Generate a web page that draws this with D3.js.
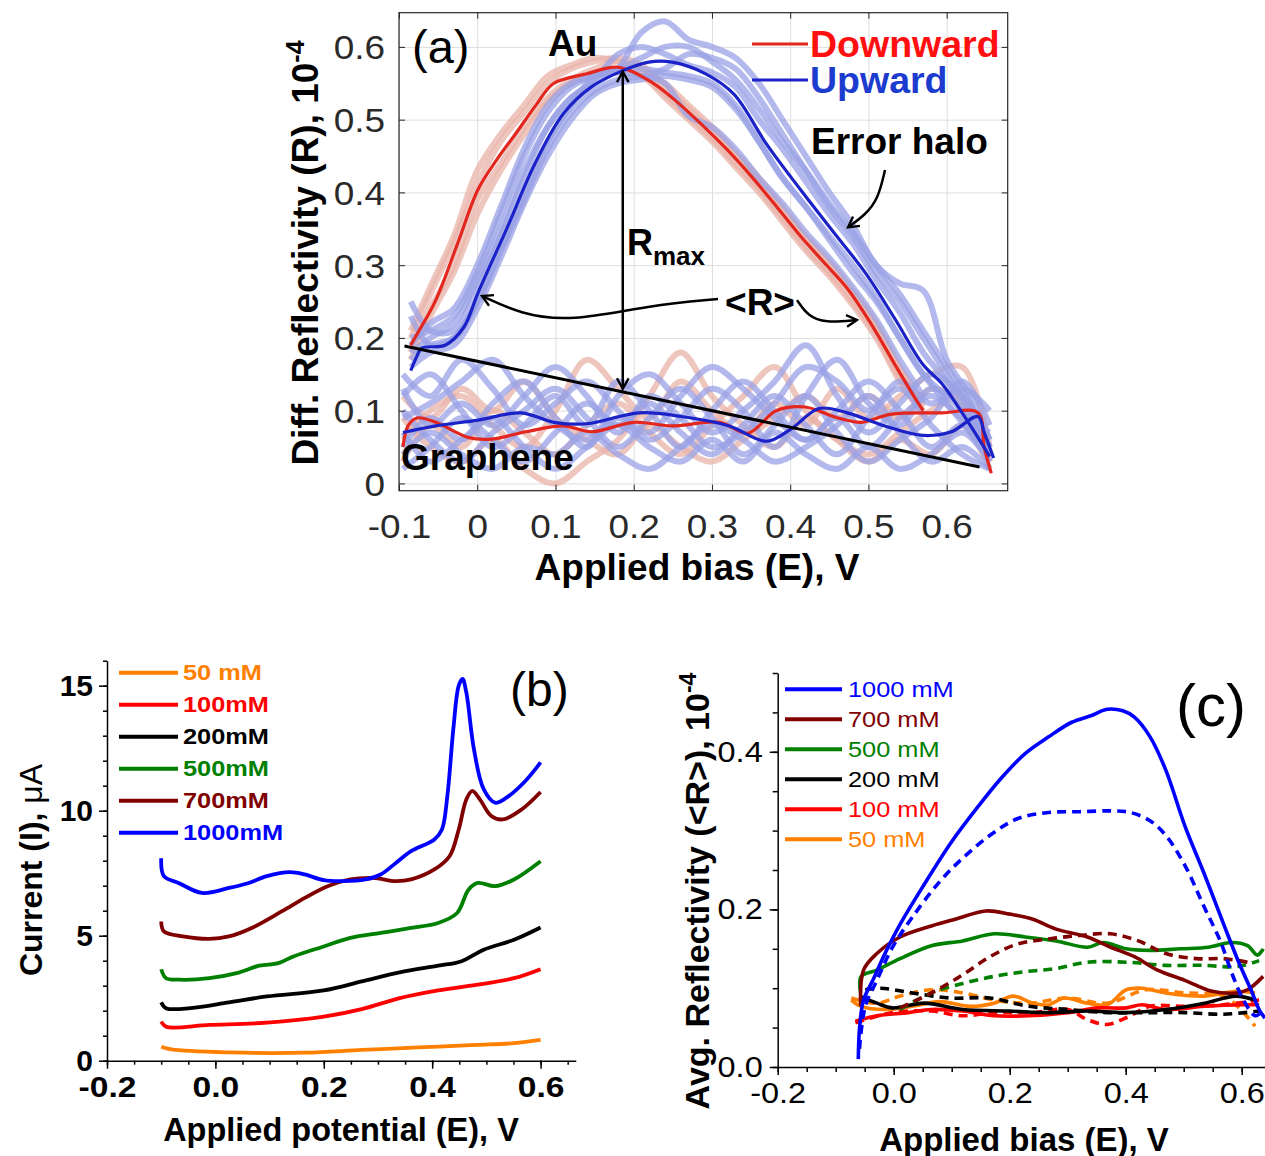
<!DOCTYPE html>
<html>
<head>
<meta charset="utf-8">
<script src="https://cdn.jsdelivr.net/npm/d3@7"></script>
<style>
  body { margin: 0; background: #fff; }
  text { font-family: "Liberation Sans", Arial, sans-serif; }
  .sxl { transform-box: fill-box; transform-origin: 0% 50%; transform: scaleX(1.18); }
  .sxc { transform-box: fill-box; transform-origin: 50% 50%; transform: scaleX(1.12); }
  .sxr { transform-box: fill-box; transform-origin: 100% 50%; transform: scaleX(1.12); }
</style>
</head>
<body>
<svg id="fig" width="1265" height="1156"></svg>
<script>
// ---------- panel (a) data ----------
var aXTicks = [-0.1, 0, 0.1, 0.2, 0.3, 0.4, 0.5, 0.6];
var aYTicks = [0, 0.1, 0.2, 0.3, 0.4, 0.5, 0.6];

var aDownAu = [[-0.085,0.19],[-0.077,0.205],[-0.053,0.252],[-0.025,0.33],[0.001,0.404],[0.025,0.445],[0.05,0.482],[0.075,0.52],[0.098,0.55],[0.14,0.563],[0.18,0.572],[0.225,0.55],[0.26,0.52],[0.29,0.49],[0.32,0.458],[0.352,0.42],[0.383,0.38],[0.413,0.34],[0.443,0.304],[0.473,0.268],[0.503,0.22],[0.534,0.163],[0.558,0.12],[0.57,0.1]];
var aUpAu = [[-0.085,0.155],[-0.077,0.175],[-0.071,0.186],[-0.041,0.19],[-0.017,0.215],[0.001,0.262],[0.038,0.351],[0.074,0.44],[0.11,0.508],[0.146,0.545],[0.183,0.566],[0.219,0.579],[0.249,0.579],[0.292,0.563],[0.328,0.535],[0.37,0.466],[0.413,0.404],[0.455,0.346],[0.497,0.288],[0.534,0.226],[0.57,0.163],[0.594,0.137],[0.624,0.09],[0.655,0.037]];
var aDownGr = [[-0.095,0.05],[-0.088,0.08],[-0.077,0.09],[-0.053,0.084],[-0.011,0.063],[0.019,0.061],[0.062,0.071],[0.11,0.079],[0.146,0.071],[0.2,0.084],[0.249,0.079],[0.31,0.084],[0.346,0.069],[0.382,0.1],[0.419,0.105],[0.461,0.09],[0.491,0.084],[0.528,0.095],[0.594,0.097],[0.64,0.097],[0.648,0.05],[0.657,0.014]];
var aUpGr = [[-0.095,0.07],[-0.053,0.079],[0.001,0.087],[0.056,0.097],[0.098,0.084],[0.14,0.082],[0.207,0.097],[0.261,0.092],[0.322,0.079],[0.37,0.058],[0.4,0.074],[0.437,0.103],[0.473,0.097],[0.521,0.079],[0.57,0.066],[0.606,0.071],[0.64,0.092],[0.648,0.07],[0.66,0.035]];

// individual sweeps (error halo)
var auHaloX = [-0.085,-0.06,-0.03,0,0.03,0.06,0.09,0.12,0.15,0.18,0.21,0.24,0.27,0.30,0.33,0.36,0.39,0.42,0.45,0.48,0.51,0.54,0.57,0.60,0.63,0.655];
var auHaloDown = [
  [0.21,0.27,0.34,0.43,0.48,0.52,0.56,0.575,0.585,0.58,0.57,0.55,0.52,0.49,0.455,0.42,0.38,0.34,0.305,0.265,0.22,0.16,0.11,null,null,null],
  [0.17,0.23,0.29,0.37,0.43,0.48,0.525,0.55,0.56,0.565,0.56,0.53,0.50,0.47,0.435,0.40,0.36,0.32,0.285,0.245,0.20,0.14,0.095,null,null,null],
  [0.20,0.26,0.33,0.41,0.47,0.51,0.55,0.57,0.58,0.585,0.575,0.545,0.515,0.485,0.45,0.415,0.375,0.335,0.30,0.26,0.215,0.155,0.105,null,null,null],
  [0.18,0.24,0.30,0.39,0.44,0.49,0.53,0.555,0.57,0.58,0.565,0.535,0.505,0.475,0.44,0.405,0.365,0.325,0.29,0.25,0.205,0.145,0.10,null,null,null]
];
var auHaloUp = [
  [0.20,0.21,0.23,0.29,0.37,0.45,0.51,0.545,0.56,0.57,0.57,0.565,0.56,0.55,0.52,0.47,0.42,0.38,0.34,0.30,0.255,0.20,0.15,0.12,null,null],
  [0.17,0.19,0.20,0.25,0.32,0.39,0.46,0.51,0.54,0.555,0.56,0.57,0.59,0.585,0.57,0.53,0.48,0.43,0.38,0.34,0.29,0.25,0.20,0.15,0.10,0.05],
  [0.25,0.21,0.21,0.27,0.34,0.42,0.49,0.53,0.55,0.57,0.62,0.635,0.61,0.60,0.585,0.55,0.50,0.45,0.40,0.355,0.30,0.275,0.265,0.17,0.12,0.06],
  [0.16,0.18,0.19,0.24,0.31,0.385,0.45,0.50,0.535,0.55,0.555,0.56,0.555,0.545,0.515,0.47,0.42,0.38,0.335,0.29,0.25,0.20,0.15,0.11,0.07,0.03],
  [0.18,0.20,0.22,0.28,0.35,0.43,0.49,0.53,0.555,0.59,0.60,0.59,0.575,0.565,0.545,0.50,0.46,0.415,0.37,0.33,0.28,0.235,0.18,0.14,0.09,0.04],
  [0.23,0.19,0.20,0.25,0.32,0.40,0.47,0.52,0.56,0.57,0.585,0.60,0.60,0.58,0.555,0.515,0.47,0.43,0.385,0.345,0.30,0.26,0.21,0.16,0.11,0.05],
  [0.19,0.22,0.24,0.30,0.38,0.46,0.52,0.55,0.56,0.565,0.56,0.55,0.505,0.49,0.46,0.42,0.385,0.345,0.31,0.27,0.225,0.17,0.12,null,null,null]
];
var grHaloX = [-0.095,-0.06,-0.02,0.02,0.06,0.10,0.14,0.18,0.22,0.26,0.30,0.34,0.38,0.42,0.46,0.50,0.54,0.58,0.62,0.655];
var grHaloDown = [
  [0.06,0.10,0.12,0.08,0.05,0.10,0.17,0.13,0.09,0.14,0.10,0.07,0.11,0.08,0.13,0.09,0.12,0.15,0.16,0.05],
  [0.09,0.05,0.03,0.06,0.02,0.00,0.03,0.06,0.12,0.18,0.12,0.08,0.05,0.09,0.06,0.04,0.07,0.10,0.12,0.03],
  [0.03,0.08,0.05,0.10,0.07,0.04,0.08,0.11,0.07,0.04,0.08,0.12,0.16,0.10,0.06,0.03,0.06,0.04,0.08,0.02],
  [0.12,0.09,0.13,0.10,0.14,0.09,0.06,0.04,0.08,0.05,0.03,0.06,0.09,0.12,0.09,0.12,0.09,0.13,0.11,0.03]
];
var grHaloUp = [
  [0.15,0.12,0.17,0.13,0.08,0.11,0.14,0.10,0.06,0.09,0.13,0.10,0.05,0.12,0.17,0.11,0.08,0.13,0.10,0.05],
  [0.05,0.09,0.06,0.11,0.14,0.09,0.05,0.12,0.15,0.11,0.07,0.10,0.14,0.19,0.12,0.07,0.11,0.15,0.12,0.06],
  [0.10,0.06,0.03,0.07,0.10,0.13,0.09,0.05,0.09,0.13,0.09,0.04,0.08,0.12,0.07,0.03,0.06,0.09,0.14,0.08],
  [0.02,0.05,0.09,0.06,0.03,0.07,0.11,0.08,0.11,0.07,0.04,0.08,0.12,0.08,0.04,0.09,0.13,0.08,0.04,0.02],
  [0.12,0.15,0.10,0.05,0.08,0.12,0.08,0.14,0.10,0.05,0.10,0.14,0.10,0.06,0.10,0.14,0.10,0.05,0.08,0.04],
  [0.07,0.03,0.06,0.09,0.05,0.02,0.05,0.08,0.05,0.03,0.06,0.03,0.07,0.04,0.02,0.05,0.02,0.04,0.07,0.03],
  [0.09,0.11,0.14,0.17,0.12,0.08,0.06,0.09,0.07,0.12,0.16,0.13,0.09,0.06,0.09,0.05,0.09,0.12,0.09,0.07],
  [0.13,0.08,0.11,0.08,0.12,0.16,0.12,0.07,0.12,0.09,0.05,0.07,0.11,0.16,0.14,0.10,0.14,0.11,0.13,0.10],
  [0.04,0.07,0.04,0.02,0.05,0.04,0.07,0.04,0.02,0.05,0.08,0.06,0.03,0.05,0.08,0.12,0.07,0.03,0.05,0.02]
];

// annotations of (a), in data units
var aBaseline = [[-0.093,0.189],[0.642,0.0225]];
var aRmax = [[0.186,0.566],[0.186,0.13]];
var aArrowLeft = [[0.3077,0.2535],[0.2208,0.245],[0.1186,0.2222],[0.0547,0.233],[0.0061,0.2576]];
var aArrowRight = [[0.4087,0.252],[0.4227,0.23],[0.4445,0.2205],[0.4854,0.2246]];
var aArrowHalo = [[0.5212,0.4307],[0.5122,0.39],[0.4956,0.369],[0.4739,0.352]];

// ---------- panel (b) data ----------
var bXTicks = [-0.2, 0, 0.2, 0.4, 0.6];
var bYTicks = [0, 5, 10, 15];
var bNames = ["50 mM", "100mM", "200mM", "500mM", "700mM", "1000mM"];
var bColors = ["#ff8000", "#ff0000", "#000000", "#008000", "#800000", "#0000ff"];
var b50 = [[-0.1,0.56],[-0.081,0.45],[0.025,0.33],[0.165,0.32],[0.27,0.43],[0.375,0.53],[0.481,0.63],[0.551,0.7],[0.6,0.83]];
var b100 = [[-0.1,1.56],[-0.091,1.36],[-0.011,1.43],[0.095,1.52],[0.2,1.76],[0.27,2.06],[0.34,2.5],[0.411,2.81],[0.481,3.03],[0.551,3.3],[0.6,3.66]];
var b200 = [[-0.1,2.33],[-0.091,2.1],[-0.046,2.1],[0.025,2.33],[0.095,2.57],[0.2,2.81],[0.27,3.17],[0.34,3.53],[0.411,3.8],[0.453,3.97],[0.495,4.44],[0.551,4.84],[0.6,5.33]];
var b500 = [[-0.1,3.66],[-0.091,3.3],[-0.067,3.24],[-0.011,3.3],[0.039,3.5],[0.081,3.8],[0.116,3.9],[0.144,4.17],[0.2,4.57],[0.249,4.91],[0.305,5.11],[0.361,5.31],[0.411,5.51],[0.446,5.91],[0.467,6.84],[0.484,7.11],[0.516,6.98],[0.551,7.25],[0.6,7.98]];
var b700 = [[-0.1,5.57],[-0.095,5.17],[-0.06,4.97],[-0.011,4.87],[0.025,4.97],[0.067,5.31],[0.123,5.98],[0.165,6.51],[0.207,6.98],[0.249,7.25],[0.291,7.31],[0.333,7.18],[0.361,7.25],[0.404,7.65],[0.432,8.18],[0.449,9.25],[0.463,10.45],[0.474,10.79],[0.488,10.45],[0.509,9.79],[0.53,9.65],[0.565,10.05],[0.6,10.75]];
var b1000 = [[-0.1,8.1],[-0.095,7.38],[-0.067,7.1],[-0.025,6.71],[0.025,6.91],[0.06,7.1],[0.095,7.38],[0.137,7.54],[0.165,7.45],[0.2,7.22],[0.235,7.18],[0.277,7.25],[0.305,7.45],[0.333,7.91],[0.361,8.38],[0.404,8.85],[0.418,9.25],[0.428,10.59],[0.439,13.26],[0.449,15.0],[0.456,15.27],[0.463,14.73],[0.477,12.46],[0.495,10.86],[0.516,10.32],[0.537,10.52],[0.572,11.19],[0.6,11.93]];
var bSeries = [b50, b100, b200, b500, b700, b1000];

// ---------- panel (c) data ----------
var cXTicks = [-0.2, 0, 0.2, 0.4, 0.6];
var cYTicks = [0, 0.2, 0.4];
var cNames = ["1000 mM", "700 mM", "500 mM", "200 mM", "100 mM", "50 mM"];
var cColors = ["#0000ff", "#800000", "#008000", "#000000", "#ff0000", "#ff8000"];
var c1000 = [[-0.061,0.01],[-0.059,0.048],[-0.052,0.085],[-0.036,0.11],[-0.015,0.144],[0.011,0.181],[0.052,0.231],[0.099,0.285],[0.146,0.331],[0.186,0.367],[0.227,0.398],[0.267,0.419],[0.307,0.4375],[0.341,0.446],[0.368,0.454],[0.395,0.452],[0.415,0.444],[0.442,0.419],[0.469,0.377],[0.502,0.306],[0.536,0.244],[0.569,0.181],[0.596,0.131],[0.616,0.098],[0.63,0.073],[0.64,0.062]];
var c1000d = [[-0.059,0.023],[-0.049,0.077],[-0.029,0.11],[-0.002,0.152],[0.032,0.19],[0.079,0.235],[0.119,0.265],[0.166,0.294],[0.213,0.315],[0.267,0.323],[0.321,0.324],[0.374,0.325],[0.408,0.323],[0.442,0.3125],[0.469,0.294],[0.502,0.256],[0.536,0.202],[0.563,0.16],[0.583,0.119],[0.603,0.085],[0.623,0.065],[0.633,0.069]];
var c700 = [[-0.057,0.077],[-0.052,0.123],[-0.029,0.144],[0.011,0.165],[0.065,0.179],[0.106,0.1875],[0.159,0.198],[0.2,0.194],[0.24,0.1875],[0.28,0.175],[0.334,0.165],[0.374,0.152],[0.415,0.14],[0.455,0.123],[0.502,0.11],[0.549,0.096],[0.59,0.094],[0.61,0.098],[0.637,0.115]];
var c700d = [[0.011,0.075],[0.065,0.094],[0.119,0.117],[0.166,0.14],[0.213,0.156],[0.267,0.1625],[0.321,0.167],[0.374,0.169],[0.422,0.16],[0.469,0.144],[0.522,0.1375],[0.569,0.1375],[0.61,0.133]];
var c500 = [[-0.057,0.094],[-0.056,0.115],[-0.029,0.123],[0.011,0.1375],[0.065,0.154],[0.119,0.16],[0.173,0.169],[0.227,0.165],[0.28,0.16],[0.334,0.152],[0.361,0.158],[0.401,0.15],[0.442,0.148],[0.495,0.15],[0.543,0.152],[0.583,0.158],[0.61,0.154],[0.627,0.142],[0.637,0.15]];
var c500d = [[0.011,0.073],[0.065,0.094],[0.119,0.106],[0.173,0.115],[0.227,0.121],[0.28,0.125],[0.334,0.133],[0.401,0.133],[0.469,0.129],[0.536,0.129],[0.583,0.127],[0.603,0.129],[0.63,0.135]];
var c200 = [[-0.059,0.09],[-0.029,0.081],[-0.002,0.075],[0.052,0.081],[0.119,0.073],[0.2,0.071],[0.267,0.069],[0.334,0.071],[0.401,0.069],[0.469,0.073],[0.536,0.081],[0.59,0.09],[0.623,0.085]];
var c200d = [[-0.049,0.098],[-0.022,0.1],[0.032,0.094],[0.099,0.0875],[0.166,0.0875],[0.233,0.077],[0.3,0.073],[0.368,0.069],[0.435,0.069],[0.502,0.069],[0.569,0.067],[0.63,0.071]];
var c100 = [[-0.066,0.058],[-0.029,0.065],[0.025,0.069],[0.065,0.073],[0.119,0.071],[0.173,0.065],[0.233,0.065],[0.3,0.069],[0.354,0.075],[0.401,0.075],[0.428,0.079],[0.469,0.073],[0.536,0.077],[0.603,0.079],[0.63,0.079]];
var c100d = [[-0.066,0.056],[-0.002,0.069],[0.065,0.071],[0.119,0.065],[0.173,0.069],[0.24,0.069],[0.3,0.073],[0.334,0.06],[0.368,0.054],[0.401,0.0625],[0.442,0.077],[0.502,0.077],[0.569,0.079],[0.63,0.085]];
var c50 = [[-0.073,0.085],[-0.056,0.077],[-0.015,0.073],[0.032,0.077],[0.079,0.083],[0.132,0.077],[0.173,0.081],[0.206,0.09],[0.24,0.081],[0.267,0.079],[0.294,0.0875],[0.334,0.081],[0.368,0.079],[0.401,0.098],[0.428,0.1],[0.469,0.094],[0.536,0.09],[0.59,0.096],[0.623,0.094]];
var c50d = [[-0.073,0.0875],[-0.029,0.081],[0.011,0.09],[0.065,0.098],[0.119,0.094],[0.173,0.085],[0.233,0.081],[0.3,0.0875],[0.368,0.081],[0.435,0.098],[0.502,0.094],[0.569,0.09],[0.603,0.069],[0.623,0.052]];
var cSolid = [c1000, c700, c500, c200, c100, c50];
var cDashed = [c1000d, c700d, c500d, c200d, c100d, c50d];

// ---------- drawing ----------
var svg = d3.select("#fig");
var FONT = "'Liberation Sans', Arial, sans-serif";

var defs = svg.append("defs");
defs.append("marker").attr("id", "chev")
    .attr("viewBox", "0 0 12 12").attr("refX", 10).attr("refY", 6)
    .attr("markerWidth", 14).attr("markerHeight", 14)
    .attr("markerUnits", "userSpaceOnUse")
    .attr("orient", "auto-start-reverse")
  .append("path").attr("d", "M1,1 L10,6 L1,11")
    .attr("fill", "none").attr("stroke", "#000").attr("stroke-width", 2);

function txt(g, x, y, s, size, opts) {
  opts = opts || {};
  return g.append("text").attr("x", x).attr("y", y).text(s)
    .attr("font-family", FONT).attr("font-size", size)
    .attr("font-weight", opts.bold ? "bold" : "normal")
    .attr("fill", opts.fill || "#000")
    .attr("text-anchor", opts.anchor || "start");
}

// ===== panel (a) =====
var ax = d3.scaleLinear().domain([-0.1, 0.678]).range([399, 1007.7]);
var ay = d3.scaleLinear().domain([-0.01, 0.647]).range([490.7, 12.7]);
var ga = svg.append("g");

defs.append("clipPath").attr("id", "clipA")
  .append("rect").attr("x", 399).attr("y", 12.7).attr("width", 608.7).attr("height", 478);

// grid
ga.append("g").attr("transform", "translate(0,490.7)")
  .call(d3.axisBottom(ax).tickValues(aXTicks).tickSize(-478).tickFormat(""))
  .call(g => g.select(".domain").remove())
  .call(g => g.selectAll("line").attr("stroke", "#dedede"));
ga.append("g").attr("transform", "translate(399,0)")
  .call(d3.axisLeft(ay).tickValues(aYTicks).tickSize(-608.7).tickFormat(""))
  .call(g => g.select(".domain").remove())
  .call(g => g.selectAll("line").attr("stroke", "#dedede"));

var plotA = ga.append("g").attr("clip-path", "url(#clipA)");
var lineA = d3.line().defined(d => d[1] != null)
  .x(d => ax(d[0])).y(d => ay(d[1])).curve(d3.curveCatmullRom);

function halo(xs, sets, color) {
  sets.forEach(function (ys) {
    plotA.append("path").datum(d3.zip(xs, ys))
      .attr("d", lineA).attr("fill", "none")
      .attr("stroke", color).attr("stroke-width", 6)
      .attr("stroke-opacity", 0.75).attr("stroke-linejoin", "round");
  });
}
halo(auHaloX, auHaloDown, "#e8b3a8");
halo(grHaloX, grHaloDown, "#e8b3a8");
halo(grHaloX, grHaloUp, "#9aa2e6");
halo(auHaloX, auHaloUp, "#9aa2e6");

[[aDownAu, "#e3261e"], [aDownGr, "#e3261e"], [aUpAu, "#1a22c8"], [aUpGr, "#1a22c8"]].forEach(function (s) {
  plotA.append("path").datum(s[0]).attr("d", lineA).attr("fill", "none")
    .attr("stroke", s[1]).attr("stroke-width", 3.2);
});

// box and ticks
ga.append("rect").attr("x", 399).attr("y", 12.7).attr("width", 608.7).attr("height", 478)
  .attr("fill", "none").attr("stroke", "#262626").attr("stroke-width", 1.2);
var axBot = ga.append("g").attr("transform", "translate(0,490.7)")
  .call(d3.axisBottom(ax).tickValues(aXTicks).tickSize(-6).tickPadding(24)
    .tickFormat(d => d === 0 ? "0" : String(d)));
var axTop = ga.append("g").attr("transform", "translate(0,12.7)")
  .call(d3.axisTop(ax).tickValues(aXTicks).tickSize(-6).tickFormat(""));
var axLeft = ga.append("g").attr("transform", "translate(399,0)")
  .call(d3.axisLeft(ay).tickValues(aYTicks).tickSize(-6).tickPadding(14)
    .tickFormat(d => d === 0 ? "0" : String(d)));
var axRight = ga.append("g").attr("transform", "translate(1007.7,0)")
  .call(d3.axisRight(ay).tickValues(aYTicks).tickSize(-6).tickFormat(""));
[axBot, axTop, axLeft, axRight].forEach(function (g) {
  g.select(".domain").remove();
  g.selectAll("line").attr("stroke", "#262626");
  g.selectAll("text").attr("font-family", FONT).attr("font-size", 33).attr("fill", "#2a2a2a");
});
axBot.selectAll("text").attr("dy", "0.71em").attr("class", "sxc");
axLeft.selectAll("text").attr("dy", "0.36em").attr("class", "sxr");

// annotations
var annA = ga.append("g");
annA.append("path").datum(aBaseline).attr("d", d3.line().x(d => ax(d[0])).y(d => ay(d[1])))
  .attr("stroke", "#000").attr("stroke-width", 3).attr("fill", "none");
annA.append("path").datum(aRmax).attr("d", d3.line().x(d => ax(d[0])).y(d => ay(d[1])))
  .attr("stroke", "#000").attr("stroke-width", 2.5).attr("fill", "none")
  .attr("marker-start", "url(#chev)").attr("marker-end", "url(#chev)");
var curveA = d3.line().x(d => ax(d[0])).y(d => ay(d[1])).curve(d3.curveBasis);
[aArrowLeft, aArrowRight, aArrowHalo].forEach(function (p) {
  annA.append("path").datum(p).attr("d", curveA).attr("fill", "none")
    .attr("stroke", "#000").attr("stroke-width", 2.5).attr("marker-end", "url(#chev)");
});

txt(ga, 412, 63, "(a)", 47);
txt(ga, 548, 56, "Au", 37, {bold: true});
var rmax = txt(ga, 627, 255, "R", 36, {bold: true});
rmax.append("tspan").attr("dy", 10).attr("font-size", 26).text("max");
txt(ga, 760, 315, "<R>", 37, {bold: true, anchor: "middle"});
txt(ga, 811, 154, "Error halo", 37, {bold: true});
txt(ga, 401, 470, "Graphene", 37, {bold: true});

// legend (a)
ga.append("line").attr("x1", 752).attr("x2", 808).attr("y1", 44).attr("y2", 44)
  .attr("stroke", "#e3261e").attr("stroke-width", 3);
ga.append("line").attr("x1", 752).attr("x2", 808).attr("y1", 80).attr("y2", 80)
  .attr("stroke", "#1a22c8").attr("stroke-width", 3);
txt(ga, 810, 57, "Downward", 37.5, {bold: true, fill: "#ff0f0f"});
txt(ga, 810, 93, "Upward", 37.5, {bold: true, fill: "#1c3ccf"});

// titles (a)
var yt = ga.append("text").attr("transform", "translate(318,253) rotate(-90)")
  .attr("text-anchor", "middle").attr("font-family", FONT).attr("font-size", 37)
  .attr("font-weight", "bold").text("Diff. Reflectivity (R), 10");
yt.append("tspan").attr("dy", -14).attr("font-size", 25).text("-4");
txt(ga, 697, 580, "Applied bias (E), V", 37, {bold: true, anchor: "middle"});

// ===== panel (b) =====
var bx = d3.scaleLinear().domain([-0.2, 0.665]).range([107, 575.8]);
var by = d3.scaleLinear().domain([0, 16]).range([1060.7, 660.7]);
var gb = svg.append("g");

var lineB = d3.line().x(d => bx(d[0])).y(d => by(d[1])).curve(d3.curveCatmullRom);
bSeries.forEach(function (s, i) {
  gb.append("path").datum(s).attr("d", lineB).attr("fill", "none")
    .attr("stroke", bColors[i]).attr("stroke-width", 3.8);
});

function styleAxis(g, size, bold) {
  g.select(".domain").attr("stroke", "#000").attr("stroke-width", 1.5);
  g.selectAll("line").attr("stroke", "#000").attr("stroke-width", 1.5);
  g.selectAll("text").attr("font-family", FONT).attr("font-size", size)
    .attr("font-weight", bold ? "bold" : "normal").attr("fill", "#000");
}
var bMinorX = d3.range(-0.2, 0.66, 0.05);
var bxa = gb.append("g").attr("transform", "translate(0,1060.7)")
  .call(d3.axisBottom(bx).tickValues(bMinorX).tickSize(4).tickSizeOuter(0).tickFormat(""));
styleAxis(bxa);
var bxm = gb.append("g").attr("transform", "translate(0,1060.7)")
  .call(d3.axisBottom(bx).tickValues(bXTicks).tickSize(8).tickSizeOuter(0).tickPadding(7)
    .tickFormat(d => d.toFixed(1)));
bxm.select(".domain").remove();
styleAxis(bxm, 30, true);
bxm.selectAll("text").attr("class", "sxc");
var bya = gb.append("g").attr("transform", "translate(107,0)")
  .call(d3.axisLeft(by).tickValues(d3.range(0, 17, 1)).tickSize(4).tickSizeOuter(0).tickFormat(""));
styleAxis(bya);
var bym = gb.append("g").attr("transform", "translate(107,0)")
  .call(d3.axisLeft(by).tickValues(bYTicks).tickSize(8).tickPadding(6));
bym.select(".domain").remove();
styleAxis(bym, 30, true);

bNames.forEach(function (n, i) {
  var yy = 672.7 + i * 32;
  gb.append("line").attr("x1", 119).attr("x2", 178).attr("y1", yy).attr("y2", yy)
    .attr("stroke", bColors[i]).attr("stroke-width", 4);
  txt(gb, 183, yy + 7.8, n, 21.5, {bold: true, fill: bColors[i]}).attr("class", "sxl");
});
txt(gb, 510, 706, "(b)", 48);
var byt = gb.append("text").attr("transform", "translate(42,870) rotate(-90)")
  .attr("text-anchor", "middle").attr("font-family", FONT).attr("font-size", 32)
  .attr("font-weight", "bold").text("Current (I), ");
byt.append("tspan").attr("font-weight", "normal").text("\u03bcA");
txt(gb, 341, 1141, "Applied potential (E), V", 32.5, {bold: true, anchor: "middle"});

// ===== panel (c) =====
var cx = d3.scaleLinear().domain([-0.2, 0.65]).range([777.7, 1270.7]);
var cy = d3.scaleLinear().domain([0, 0.5]).range([1067, 673]);
var gc = svg.append("g");
var lineC = d3.line().x(d => cx(d[0])).y(d => cy(d[1])).curve(d3.curveCatmullRom);

for (var i = cSolid.length - 1; i >= 0; i--) {
  gc.append("path").datum(cDashed[i]).attr("d", lineC).attr("fill", "none")
    .attr("stroke", cColors[i]).attr("stroke-width", 3.6).attr("stroke-dasharray", "9,6");
  gc.append("path").datum(cSolid[i]).attr("d", lineC).attr("fill", "none")
    .attr("stroke", cColors[i]).attr("stroke-width", 3.6);
}

var cxa = gc.append("g").attr("transform", "translate(0,1067)")
  .call(d3.axisBottom(cx).tickValues(d3.range(-0.2, 0.65, 0.05)).tickSize(5).tickSizeOuter(0).tickFormat(""));
styleAxis(cxa);
var cxm = gc.append("g").attr("transform", "translate(0,1067)")
  .call(d3.axisBottom(cx).tickValues(cXTicks).tickSize(8).tickPadding(7).tickFormat(d => d.toFixed(1)));
cxm.select(".domain").remove();
styleAxis(cxm, 29, false);
cxm.selectAll("text").attr("class", "sxc");
var cya = gc.append("g").attr("transform", "translate(777.7,0)")
  .call(d3.axisLeft(cy).tickValues(d3.range(0, 0.501, 0.05)).tickSize(5).tickSizeOuter(0).tickFormat(""));
styleAxis(cya);
var cym = gc.append("g").attr("transform", "translate(777.7,0)")
  .call(d3.axisLeft(cy).tickValues(cYTicks).tickSize(8).tickPadding(7).tickFormat(d => d.toFixed(1)));
cym.select(".domain").remove();
styleAxis(cym, 29, false);
cym.selectAll("text").attr("class", "sxr");

cNames.forEach(function (n, i) {
  var yy = 689.3 + i * 30;
  gc.append("line").attr("x1", 785).attr("x2", 842).attr("y1", yy).attr("y2", yy)
    .attr("stroke", cColors[i]).attr("stroke-width", 4);
  txt(gc, 848, yy + 7.8, n, 21.5, {fill: cColors[i]}).attr("class", "sxl");
});
txt(gc, 1176, 726, "(c)", 60);
var cyt = gc.append("text").attr("transform", "translate(709,891) rotate(-90)")
  .attr("text-anchor", "middle").attr("font-family", FONT).attr("font-size", 34)
  .attr("font-weight", "bold").text("Avg. Reflectivity (<R>), 10");
cyt.append("tspan").attr("dy", -13).attr("font-size", 23).text("-4");
txt(gc, 1024, 1151, "Applied bias (E), V", 33, {bold: true, anchor: "middle"});
</script>
</body>
</html>
